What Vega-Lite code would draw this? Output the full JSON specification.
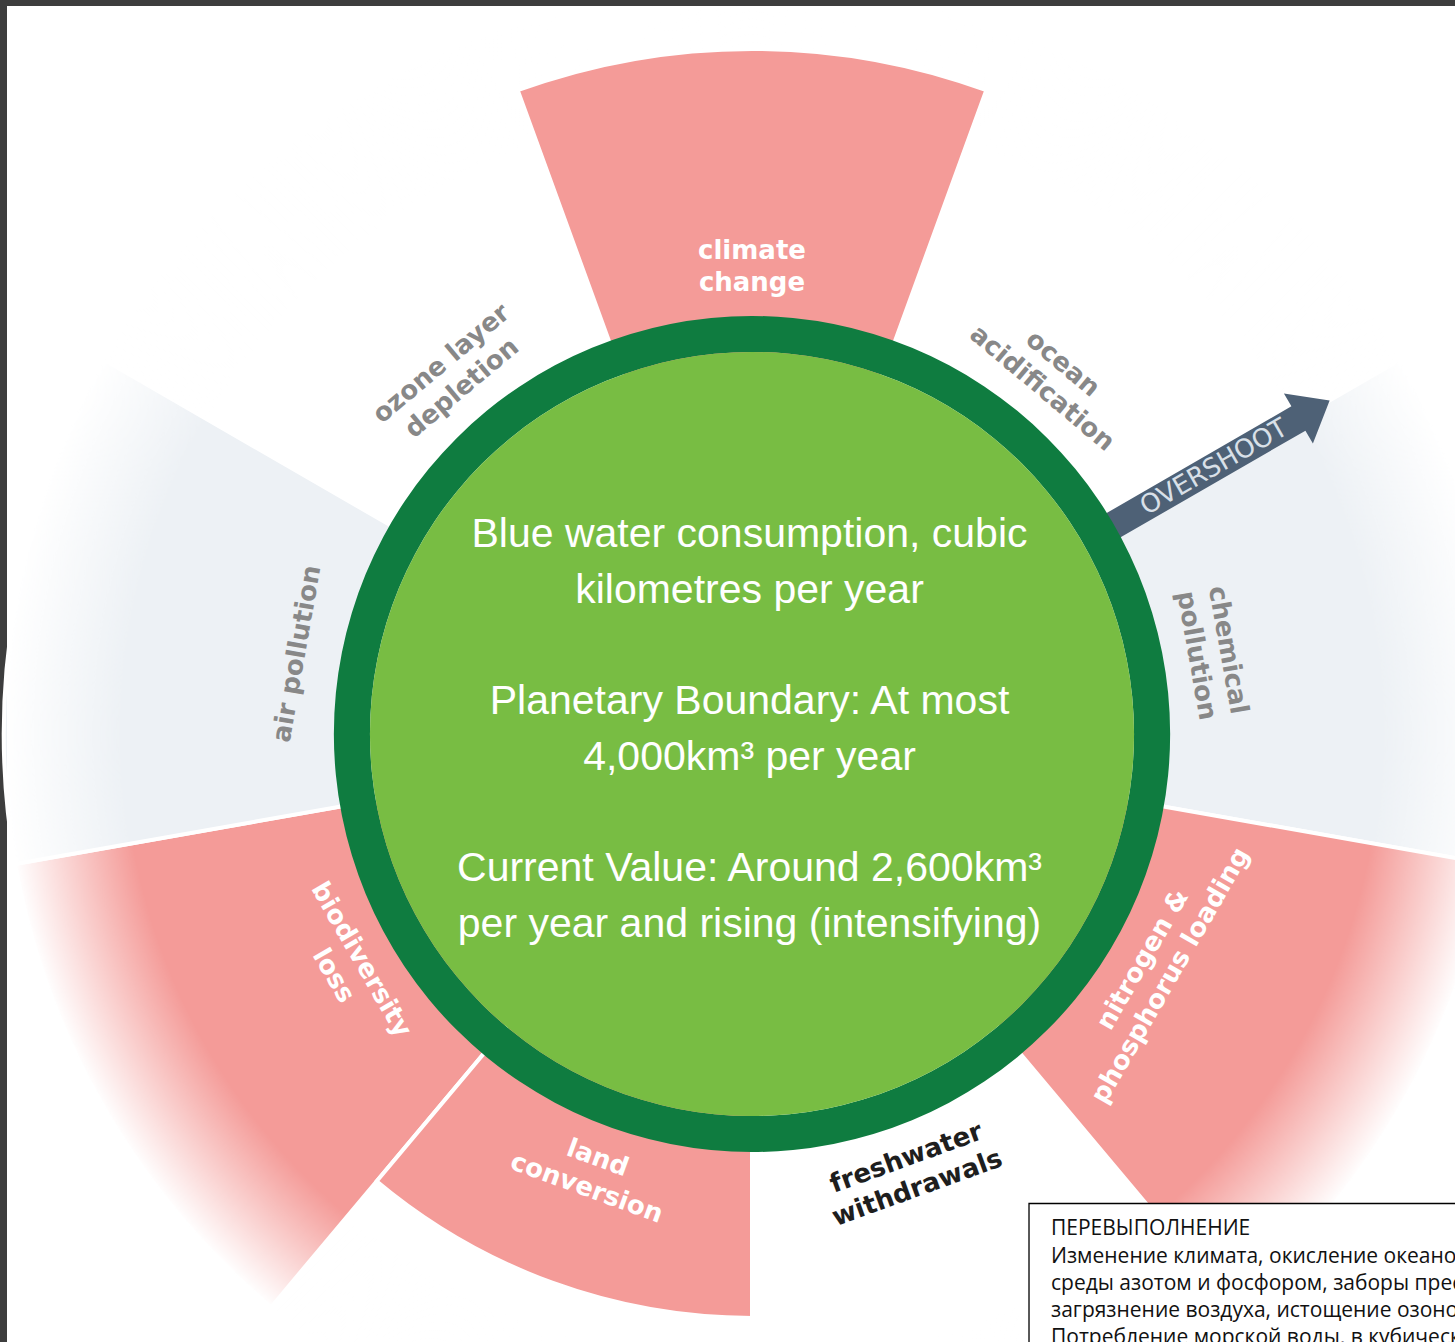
{
  "$schema": "https://vega.github.io/schema/vega-lite/v6.json",
  "width": 1448,
  "height": 1336,
  "autosize": {"type": "none"},
  "padding": {"left": 7, "top": 6, "right": 0, "bottom": 0},
  "background": "#3d3d3d",
  "config": {"view": {"fill": "#ffffff", "stroke": null}},
  "datasets": {
    "boundaries": [
      {"boundary": "climate change", "label": ["climate", "change"], "start": -20, "end": 20, "mid": 0, "extent": 1.639, "status": "overshoot", "focus": false},
      {"boundary": "ocean acidification", "label": ["ocean", "acidification"], "start": 20, "end": 60, "mid": 40, "extent": 0.95, "status": "within boundary", "focus": false},
      {"boundary": "chemical pollution", "label": ["chemical", "pollution"], "start": 60, "end": 100, "mid": 80, "extent": 1.79, "status": "not quantified", "focus": false},
      {"boundary": "nitrogen & phosphorus loading", "label": ["nitrogen &", "phosphorus loading"], "start": 100, "end": 140, "mid": 120, "extent": 1.79, "status": "overshoot", "focus": false},
      {"boundary": "freshwater withdrawals", "label": ["freshwater", "withdrawals"], "start": 140, "end": 180, "mid": 160, "extent": 0.95, "status": "within boundary", "focus": true},
      {"boundary": "land conversion", "label": ["land", "conversion"], "start": 180, "end": 220, "mid": 200, "extent": 1.397, "status": "overshoot", "focus": false},
      {"boundary": "biodiversity loss", "label": ["biodiversity", "loss"], "start": 220, "end": 260, "mid": 240, "extent": 1.79, "status": "overshoot", "focus": false},
      {"boundary": "air pollution", "label": ["air pollution"], "start": 260, "end": 300, "mid": 280, "extent": 1.79, "status": "not quantified", "focus": false},
      {"boundary": "ozone layer depletion", "label": ["ozone layer", "depletion"], "start": 300, "end": 340, "mid": 320, "extent": 0.95, "status": "within boundary", "focus": false}
    ],
    "caption": [
      {"part": "metric", "lines": ["Blue water consumption, cubic", "kilometres per year"]},
      {"part": "boundary", "lines": ["Planetary Boundary: At most", "4,000km³ per year"]},
      {"part": "current", "lines": ["Current Value: Around 2,600km³", "per year and rising (intensifying)"]}
    ],
    "note": [
      {"note": "overshoot list", "lines": ["ПЕРЕВЫПОЛНЕНИЕ", "Изменение климата, окисление океанов, химическое загрязнение, загрязнение окружающей", "среды азотом и фосфором, заборы пресной воды, превращение земель, утрата биоразнообразия,", "загрязнение воздуха, истощение озонового слоя", "Потребление морской воды, в кубических километрах в год"], "x1": 0.6627, "x2": 1.8, "y1": -1.1232, "y2": -1.6}
    ]
  },
  "resolve": {"scale": {"color": "independent"}},
  "layer": [
    {
      "data": {"name": "boundaries"},
      "mark": {"type": "arc", "stroke": "#ffffff", "strokeWidth": 4},
      "encoding": {
        "x": {"datum": 0, "type": "quantitative", "scale": {"domain": [-1.7823, 1.68182], "nice": false, "zero": false}, "axis": null},
        "y": {"datum": 0, "type": "quantitative", "scale": {"domain": [-1.45455, 1.74163], "nice": false, "zero": false}, "axis": null},
        "theta": {"field": "start", "type": "quantitative", "stack": null, "scale": {"type": "linear", "domain": [0, 360], "range": [0, 6.283185307179586], "zero": false, "nice": false}},
        "theta2": {"field": "end"},
        "radius": {"field": "extent", "type": "quantitative", "scale": {"type": "linear", "domain": [0, 1], "range": [0, 418], "zero": true, "nice": false}},
        "color": {"field": "status", "type": "nominal", "scale": {"domain": ["overshoot", "not quantified", "within boundary"], "range": ["#f49b98", "#edf1f5", "#ffffff"]}, "legend": null}
      }
    },
    {
      "data": {"values": [{"zone": "fade"}]},
      "mark": {
        "type": "arc",
        "clip": true,
        "fill": {
          "gradient": "radial",
          "x1": 0.5, "y1": 0.5, "r1": 0,
          "x2": 0.5, "y2": 0.5, "r2": 0.5,
          "stops": [
            {"offset": 0, "color": "rgba(255,255,255,0)"},
            {"offset": 0.84, "color": "rgba(255,255,255,0)"},
            {"offset": 1, "color": "rgba(255,255,255,1)"}
          ]
        }
      },
      "encoding": {
        "x": {"datum": 0, "type": "quantitative", "scale": {"domain": [-1.7823, 1.68182], "nice": false, "zero": false}, "axis": null},
        "y": {"datum": 0, "type": "quantitative", "scale": {"domain": [-1.45455, 1.74163], "nice": false, "zero": false}, "axis": null},
        "theta": {"datum": 0, "type": "quantitative", "scale": {"type": "linear", "domain": [0, 360], "range": [0, 6.283185307179586], "zero": false, "nice": false}},
        "theta2": {"datum": 360},
        "radius": {"datum": 1.79, "type": "quantitative", "scale": {"type": "linear", "domain": [0, 1], "range": [0, 418], "zero": true, "nice": false}}
      }
    },
    {
      "data": {"name": "boundaries"},
      "transform": [{"filter": {"field": "extent", "lt": 1.7}}],
      "mark": {"type": "arc", "stroke": "#ffffff", "strokeWidth": 4},
      "encoding": {
        "x": {"datum": 0, "type": "quantitative", "scale": {"domain": [-1.7823, 1.68182], "nice": false, "zero": false}, "axis": null},
        "y": {"datum": 0, "type": "quantitative", "scale": {"domain": [-1.45455, 1.74163], "nice": false, "zero": false}, "axis": null},
        "theta": {"field": "start", "type": "quantitative", "stack": null, "scale": {"type": "linear", "domain": [0, 360], "range": [0, 6.283185307179586], "zero": false, "nice": false}},
        "theta2": {"field": "end"},
        "radius": {"field": "extent", "type": "quantitative", "scale": {"type": "linear", "domain": [0, 1], "range": [0, 418], "zero": true, "nice": false}},
        "color": {"field": "status", "type": "nominal", "scale": {"domain": ["overshoot", "not quantified", "within boundary"], "range": ["#f49b98", "#edf1f5", "#ffffff"]}, "legend": null}
      }
    },
    {
      "data": {"values": [{"marker": "overshoot", "text": "OVERSHOOT", "cx": 1.1053, "cy": 0.6382}]},
      "mark": {"type": "point", "shape": "M -1 -0.105 L 0.73 -0.105 L 0.73 -0.217 L 1 0 L 0.73 0.217 L 0.73 0.105 L -1 0.105 Z", "filled": true, "size": 71289, "angle": -30, "color": "#4e6176", "opacity": 1, "strokeWidth": 0},
      "encoding": {
        "x": {"field": "cx", "type": "quantitative", "scale": {"domain": [-1.7823, 1.68182], "nice": false, "zero": false}, "axis": null},
        "y": {"field": "cy", "type": "quantitative", "scale": {"domain": [-1.45455, 1.74163], "nice": false, "zero": false}, "axis": null}
      }
    },
    {
      "data": {"values": [{"zone": "planetary boundary", "outer": 1, "inner": 0.914}, {"zone": "safe operating space", "outer": 0.914, "inner": 0}]},
      "mark": {"type": "arc"},
      "encoding": {
        "x": {"datum": 0, "type": "quantitative", "scale": {"domain": [-1.7823, 1.68182], "nice": false, "zero": false}, "axis": null},
        "y": {"datum": 0, "type": "quantitative", "scale": {"domain": [-1.45455, 1.74163], "nice": false, "zero": false}, "axis": null},
        "theta": {"datum": 0, "type": "quantitative", "scale": {"type": "linear", "domain": [0, 360], "range": [0, 6.283185307179586], "zero": false, "nice": false}},
        "theta2": {"datum": 360},
        "radius": {"field": "outer", "type": "quantitative", "scale": {"type": "linear", "domain": [0, 1], "range": [0, 418], "zero": true, "nice": false}},
        "radius2": {"field": "inner"},
        "color": {"field": "zone", "type": "nominal", "scale": {"domain": ["planetary boundary", "safe operating space"], "range": ["#0f7c40", "#78bd43"]}, "legend": null}
      }
    },
    {
      "data": {"name": "boundaries"},
      "transform": [{"filter": "length(datum.label) > 1"}],
      "mark": {"type": "text", "font": "DejaVu Sans", "fontWeight": "bold", "fontSize": 26, "lineHeight": 32, "align": "center", "baseline": "middle", "dy": -16},
      "encoding": {
        "x": {"datum": 0, "type": "quantitative", "scale": {"domain": [-1.7823, 1.68182], "nice": false, "zero": false}, "axis": null},
        "y": {"datum": 0, "type": "quantitative", "scale": {"domain": [-1.45455, 1.74163], "nice": false, "zero": false}, "axis": null},
        "theta": {"field": "mid", "type": "quantitative", "stack": null, "scale": {"type": "linear", "domain": [0, 360], "range": [0, 6.283185307179586], "zero": false, "nice": false}},
        "radius": {"datum": 1.118, "type": "quantitative", "scale": {"type": "linear", "domain": [0, 1], "range": [0, 418], "zero": true, "nice": false}},
        "text": {"field": "label", "type": "nominal"},
        "angle": {"field": "mid", "type": "quantitative", "scale": {"domain": [0, 100, 101, 260, 261, 360], "range": [0, 100, -79, 80, 261, 360], "zero": false, "nice": false}, "legend": null},
        "color": {"condition": {"test": "datum.focus", "value": "#1e1e1e"}, "field": "status", "type": "nominal", "scale": {"domain": ["overshoot", "not quantified", "within boundary"], "range": ["#ffffff", "#888888", "#888888"]}, "legend": null}
      }
    },
    {
      "data": {"name": "boundaries"},
      "transform": [{"filter": "length(datum.label) == 1"}],
      "mark": {"type": "text", "font": "DejaVu Sans", "fontWeight": "bold", "fontSize": 26, "lineHeight": 32, "align": "center", "baseline": "middle"},
      "encoding": {
        "x": {"datum": 0, "type": "quantitative", "scale": {"domain": [-1.7823, 1.68182], "nice": false, "zero": false}, "axis": null},
        "y": {"datum": 0, "type": "quantitative", "scale": {"domain": [-1.45455, 1.74163], "nice": false, "zero": false}, "axis": null},
        "theta": {"field": "mid", "type": "quantitative", "stack": null, "scale": {"type": "linear", "domain": [0, 360], "range": [0, 6.283185307179586], "zero": false, "nice": false}},
        "radius": {"datum": 1.105, "type": "quantitative", "scale": {"type": "linear", "domain": [0, 1], "range": [0, 418], "zero": true, "nice": false}},
        "text": {"field": "label", "type": "nominal"},
        "angle": {"field": "mid", "type": "quantitative", "scale": {"domain": [0, 100, 101, 260, 261, 360], "range": [0, 100, -79, 80, 261, 360], "zero": false, "nice": false}, "legend": null},
        "color": {"condition": {"test": "datum.focus", "value": "#1e1e1e"}, "field": "status", "type": "nominal", "scale": {"domain": ["overshoot", "not quantified", "within boundary"], "range": ["#ffffff", "#888888", "#888888"]}, "legend": null}
      }
    },
    {
      "data": {"name": "caption"},
      "transform": [{"filter": {"field": "part", "equal": "metric"}}],
      "mark": {"type": "text", "font": "Liberation Sans", "fontSize": 41, "lineHeight": 55.7, "align": "center", "baseline": "middle", "color": "#ffffff"},
      "encoding": {
        "x": {"datum": -0.006, "type": "quantitative", "scale": {"domain": [-1.7823, 1.68182], "nice": false, "zero": false}, "axis": null},
        "y": {"datum": 0.476, "type": "quantitative", "scale": {"domain": [-1.45455, 1.74163], "nice": false, "zero": false}, "axis": null},
        "text": {"field": "lines", "type": "nominal"}
      }
    },
    {
      "data": {"name": "caption"},
      "transform": [{"filter": {"field": "part", "equal": "boundary"}}],
      "mark": {"type": "text", "font": "Liberation Sans", "fontSize": 41, "lineHeight": 55.7, "align": "center", "baseline": "middle", "color": "#ffffff"},
      "encoding": {
        "x": {"datum": -0.006, "type": "quantitative", "scale": {"domain": [-1.7823, 1.68182], "nice": false, "zero": false}, "axis": null},
        "y": {"datum": 0.0762, "type": "quantitative", "scale": {"domain": [-1.45455, 1.74163], "nice": false, "zero": false}, "axis": null},
        "text": {"field": "lines", "type": "nominal"}
      }
    },
    {
      "data": {"name": "caption"},
      "transform": [{"filter": {"field": "part", "equal": "current"}}],
      "mark": {"type": "text", "font": "Liberation Sans", "fontSize": 41, "lineHeight": 55.7, "align": "center", "baseline": "middle", "color": "#ffffff"},
      "encoding": {
        "x": {"datum": -0.006, "type": "quantitative", "scale": {"domain": [-1.7823, 1.68182], "nice": false, "zero": false}, "axis": null},
        "y": {"datum": -0.3235, "type": "quantitative", "scale": {"domain": [-1.45455, 1.74163], "nice": false, "zero": false}, "axis": null},
        "text": {"field": "lines", "type": "nominal"}
      }
    },
    {
      "data": {"values": [{"marker": "overshoot", "text": "OVERSHOOT", "cx": 1.1053, "cy": 0.6382}]},
      "mark": {"type": "text", "font": "DejaVu Sans", "fontSize": 26, "angle": -30, "align": "center", "baseline": "middle", "color": "#d9e0e8"},
      "encoding": {
        "x": {"field": "cx", "type": "quantitative", "scale": {"domain": [-1.7823, 1.68182], "nice": false, "zero": false}, "axis": null},
        "y": {"field": "cy", "type": "quantitative", "scale": {"domain": [-1.45455, 1.74163], "nice": false, "zero": false}, "axis": null},
        "text": {"field": "text", "type": "nominal"}
      }
    },
    {
      "data": {"name": "note"},
      "mark": {"type": "rect", "fill": "#ffffff", "stroke": "#000000", "strokeWidth": 1.3},
      "encoding": {
        "x": {"field": "x1", "type": "quantitative", "scale": {"domain": [-1.7823, 1.68182], "nice": false, "zero": false}, "axis": null},
        "x2": {"field": "x2"},
        "y": {"field": "y1", "type": "quantitative", "scale": {"domain": [-1.45455, 1.74163], "nice": false, "zero": false}, "axis": null},
        "y2": {"field": "y2"}
      }
    },
    {
      "data": {"name": "note"},
      "mark": {"type": "text", "font": "Open Sans", "fontSize": 21, "lineHeight": 27.2, "align": "left", "baseline": "top", "dx": 22, "dy": 15, "color": "#111111"},
      "encoding": {
        "x": {"field": "x1", "type": "quantitative", "scale": {"domain": [-1.7823, 1.68182], "nice": false, "zero": false}, "axis": null},
        "y": {"field": "y1", "type": "quantitative", "scale": {"domain": [-1.45455, 1.74163], "nice": false, "zero": false}, "axis": null},
        "text": {"field": "lines", "type": "nominal"}
      }
    }
  ]
}
